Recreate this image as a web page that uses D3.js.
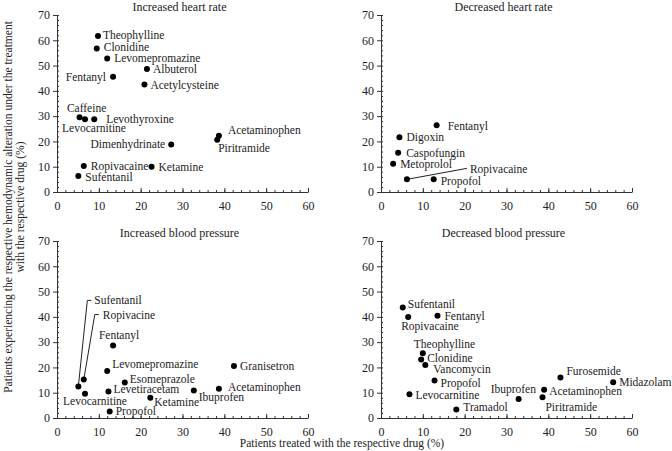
<!DOCTYPE html>
<html>
<head>
<meta charset="utf-8">
<script src="https://cdn.jsdelivr.net/npm/d3@7"></script>
<style>
  body { margin: 0; background: #fff; }
  svg text { font-family: "Liberation Serif", "Times New Roman", serif; fill: #222; }
</style>
</head>
<body>
<svg id="chart" width="672" height="451"></svg>
<script>
// ---------- DATA ----------
const xTicks = [0, 10, 20, 30, 40, 50, 60];
const yTicks = [0, 10, 20, 30, 40, 50, 60, 70];

const ihrDrugs   = ["Theophylline","Clonidine","Levomepromazine","Albuterol","Fentanyl","Acetylcysteine","Caffeine","Levocarnitine","Levothyroxine","Acetaminophen","Piritramide","Dimenhydrinate","Ropivacaine","Ketamine","Sufentanil"];
const ihrTreated = [9.8, 9.5, 12.0, 21.5, 13.4, 20.9, 5.4, 6.7, 8.9, 38.7, 38.3, 27.3, 6.4, 22.6, 5.1];
const ihrAltered = [61.7, 56.8, 52.8, 48.6, 45.6, 42.5, 29.6, 28.8, 28.8, 22.2, 20.7, 18.8, 10.3, 10.0, 6.3];

const dhrDrugs   = ["Fentanyl","Digoxin","Caspofungin","Metoprolol","Ropivacaine","Propofol"];
const dhrTreated = [13.3, 4.4, 4.1, 2.9, 6.2, 12.6];
const dhrAltered = [26.4, 21.7, 15.5, 11.2, 5.0, 5.0];

const ibpDrugs   = ["Fentanyl","Levomepromazine","Esomeprazole","Granisetron","Acetaminophen","Ibuprofen","Levetiracetam","Ketamine","Levocarnitine","Propofol","Sufentanil","Ropivacine"];
const ibpTreated = [13.4, 12.0, 16.2, 42.3, 38.7, 32.7, 12.3, 22.3, 6.7, 12.6, 5.1, 6.4];
const ibpAltered = [28.7, 18.6, 14.0, 20.6, 11.6, 10.9, 10.5, 8.0, 9.6, 2.6, 12.5, 15.2];

const dbpDrugs   = ["Sufentanil","Ropivacaine","Fentanyl","Theophylline","Clonidine","Vancomycin","Propofol","Levocarnitine","Tramadol","Ibuprofen","Acetaminophen","Piritramide","Furosemide","Midazolam"];
const dbpTreated = [5.2, 6.5, 13.5, 10.0, 9.6, 10.6, 12.8, 6.8, 18.0, 32.9, 39.0, 38.6, 42.9, 55.5];
const dbpAltered = [43.7, 39.9, 40.4, 25.6, 23.1, 21.0, 14.8, 9.4, 3.4, 7.5, 11.2, 8.2, 16.0, 14.1];

// ---------- LABEL LAYOUT (pixel offsets from the point) ----------
const ihrLabels = {
  "Theophylline":[5,-1,"start"], "Clonidine":[7,-1,"start"], "Levomepromazine":[7,0,"start"],
  "Albuterol":[6,0,"start"], "Fentanyl":[-7,0,"end"], "Acetylcysteine":[6,0,"start"],
  "Caffeine":[7,-9,"middle"], "Levocarnitine":[9,9,"middle"], "Levothyroxine":[12,0,"start"],
  "Acetaminophen":[9,-6,"start"], "Piritramide":[1,8,"start"], "Dimenhydrinate":[-6,0,"end"],
  "Ropivacaine":[7,0,"start"], "Ketamine":[7,0,"start"], "Sufentanil":[7,1,"start"]
};
const dhrLabels = {
  "Fentanyl":[11,1,"start"], "Digoxin":[7,0,"start"], "Caspofungin":[8,0,"start"],
  "Metoprolol":[7,0,"start"], "Ropivacaine":[63,-10,"start"], "Propofol":[7,2,"start"]
};
const ibpLabels = {
  "Fentanyl":[6,-10,"middle"], "Levomepromazine":[5,-7,"start"], "Esomeprazole":[5,-4,"start"],
  "Granisetron":[6,0,"start"], "Acetaminophen":[9,-2,"start"], "Ibuprofen":[5,7,"start"],
  "Levetiracetam":[5,-2,"start"], "Ketamine":[4,4,"start"], "Levocarnitine":[10,7,"middle"],
  "Propofol":[6,0,"start"], "Sufentanil":[16,-86,"start"], "Ropivacine":[19,-65,"start"]
};
const dbpLabels = {
  "Sufentanil":[5,-4,"start"], "Ropivacaine":[-7,9,"start"], "Fentanyl":[7,0,"start"],
  "Theophylline":[-9,-9,"start"], "Clonidine":[6,-2,"start"], "Vancomycin":[8,4,"start"],
  "Propofol":[6,2,"start"], "Levocarnitine":[6,1,"start"], "Tramadol":[7,-2,"start"],
  "Ibuprofen":[-28,-10,"start"], "Acetaminophen":[5,1,"start"], "Piritramide":[3,10,"start"],
  "Furosemide":[6,-7,"start"], "Midazolam":[6,0,"start"]
};
// leader lines (pixel offsets from the point)
const ihrLeaders = {};
const dhrLeaders = { "Ropivacaine": [[0,0],[60,-11]] };
const ibpLeaders = { "Sufentanil": [[0,0],[9,-86],[13,-86]], "Ropivacine": [[0,0],[11,-65],[15,-65]] };
const dbpLeaders = {};

const panels = [
  {title:"Increased heart rate", drugs:ihrDrugs, xs:ihrTreated, ys:ihrAltered, labels:ihrLabels, leaders:ihrLeaders, left:57, top:15, bottom:192},
  {title:"Decreased heart rate", drugs:dhrDrugs, xs:dhrTreated, ys:dhrAltered, labels:dhrLabels, leaders:dhrLeaders, left:381, top:15, bottom:192},
  {title:"Increased blood pressure", drugs:ibpDrugs, xs:ibpTreated, ys:ibpAltered, labels:ibpLabels, leaders:ibpLeaders, left:57, top:241, bottom:418},
  {title:"Decreased blood pressure", drugs:dbpDrugs, xs:dbpTreated, ys:dbpAltered, labels:dbpLabels, leaders:dbpLeaders, left:381, top:241, bottom:418}
];
const plotW = 251;

const svg = d3.select("#chart");
const axisColor = "#333";

panels.forEach(p => {
  const x = d3.scaleLinear().domain([0, 60]).range([p.left, p.left + plotW]);
  const y = d3.scaleLinear().domain([0, 70]).range([p.bottom, p.top]);
  const g = svg.append("g");

  // minor ticks
  g.append("g").attr("transform", `translate(0,${p.bottom})`)
    .call(d3.axisBottom(x).tickValues(d3.range(0, 61, 2)).tickSizeInner(-2).tickSizeOuter(0).tickFormat(""))
    .call(a => a.select(".domain").remove());
  g.append("g").attr("transform", `translate(${p.left},0)`)
    .call(d3.axisLeft(y).tickValues(d3.range(0, 71, 2)).tickSizeInner(-2).tickSizeOuter(0).tickFormat(""))
    .call(a => a.select(".domain").remove());

  // major axes
  const xa = g.append("g").attr("transform", `translate(0,${p.bottom})`)
    .call(d3.axisBottom(x).tickValues(xTicks).tickSizeInner(-4).tickSizeOuter(0).tickPadding(9));
  const ya = g.append("g").attr("transform", `translate(${p.left},0)`)
    .call(d3.axisLeft(y).tickValues(yTicks).tickSizeInner(4).tickSizeOuter(0).tickPadding(3));
  [xa, ya].forEach(a => {
    a.selectAll("text").style("font-family", "Liberation Serif").style("font-size", "12px").attr("fill", "#222");
  });
  g.selectAll(".domain, .tick line").attr("stroke", axisColor).attr("stroke-width", 1);

  // title
  g.append("text").attr("x", p.left + plotW / 2 - 3).attr("y", p.top - 8)
    .attr("text-anchor", "middle").attr("dominant-baseline", "central")
    .style("font-size", "12px").text(p.title);

  const pts = p.drugs.map((d, i) => ({name: d, px: x(p.xs[i]), py: y(p.ys[i])}));

  // leader lines
  pts.forEach(pt => {
    const L = p.leaders[pt.name];
    if (L) {
      g.append("path")
        .attr("d", d3.line()(L.map(o => [pt.px + o[0], pt.py + o[1]])))
        .attr("fill", "none").attr("stroke", "#222").attr("stroke-width", 1);
    }
  });

  // points
  g.selectAll("circle").data(pts).join("circle")
    .attr("cx", d => d.px).attr("cy", d => d.py).attr("r", 3).attr("fill", "#000");

  // labels
  g.selectAll("text.lab").data(pts).join("text").attr("class", "lab")
    .attr("x", d => d.px + p.labels[d.name][0])
    .attr("y", d => d.py + p.labels[d.name][1])
    .attr("text-anchor", d => p.labels[d.name][2])
    .attr("dominant-baseline", "central")
    .style("font-size", "11.5px")
    .text(d => d.name);
});

// axis titles
svg.append("text").attr("x", 342).attr("y", 443)
  .attr("text-anchor", "middle").attr("dominant-baseline", "central")
  .style("font-size", "11.5px").text("Patients treated with the respective drug (%)");

const yl = svg.append("text").attr("transform", "translate(8,207) rotate(-90)")
  .attr("text-anchor", "middle").attr("dominant-baseline", "central").style("font-size", "11.5px");
yl.append("tspan").attr("x", 0).attr("y", 0).text("Patients experiencing the respective hemodynamic alteration under the treatment");
yl.append("tspan").attr("x", 0).attr("y", 12).text("with the respective drug (%)");
</script>
</body>
</html>
